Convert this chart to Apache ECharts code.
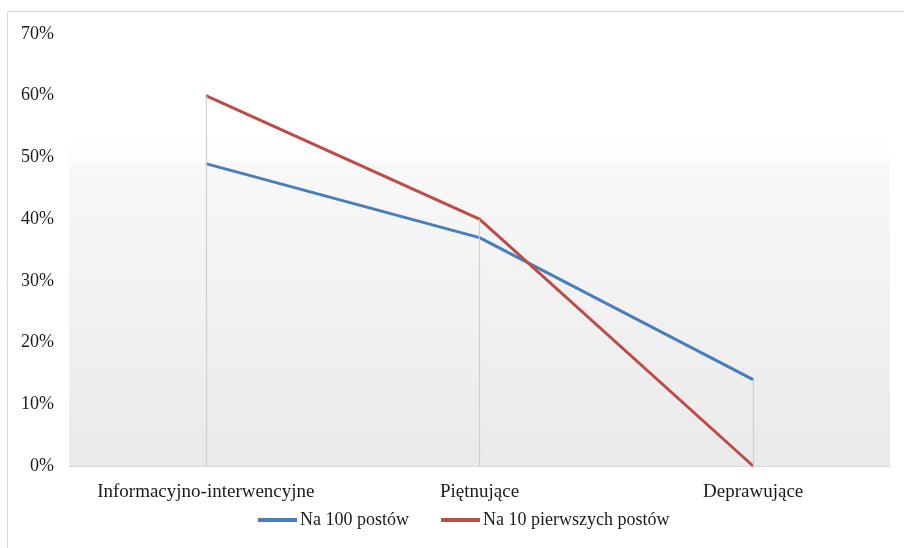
<!DOCTYPE html>
<html>
<head>
<meta charset="utf-8">
<script src="https://cdn.jsdelivr.net/npm/echarts@6/dist/echarts.min.js"></script>
<style>
  html, body { margin: 0; padding: 0; background: #ffffff; }
  #chart { width: 904px; height: 548px; }
</style>
</head>
<body>
<div id="chart"></div>
<script>
// Categories and values (percent)
const categories = ['Informacyjno-interwencyjne', 'Piętnujące', 'Deprawujące'];
const seriesNames = ['Na 100 postów', 'Na 10 pierwszych postów'];
const per100 = [49, 37, 14];
const perFirst10 = [60, 40, 0];
const yTicks = [0, 10, 20, 30, 40, 50, 60, 70];

const FONT = '"Liberation Serif", "Times New Roman", serif';
const TEXT = '#1a1a1a';

// Vertical drop lines from the highest point of each category down to the axis
const dropLines = categories.map((c, i) => [
  { coord: [c, 0] },
  { coord: [c, Math.max(per100[i], perFirst10[i])] }
]);

const chart = echarts.init(document.getElementById('chart'), null, { renderer: 'canvas' });

chart.setOption({
  animation: false,
  backgroundColor: '#ffffff',
  graphic: [{
    type: 'rect',
    shape: { x: 7.5, y: 11.5, width: 920, height: 560 },
    style: { fill: 'none', stroke: '#d9d9d9', lineWidth: 1 },
    silent: true
  }],
  grid: {
    left: 69, right: 14, top: 34, bottom: 82,
    show: true,
    borderWidth: 0,
    backgroundColor: new echarts.graphic.LinearGradient(0, 0, 0, 1, [
      { offset: 0, color: '#ffffff' },
      { offset: 0.22, color: '#ffffff' },
      { offset: 0.295, color: '#fdfdfd' },
      { offset: 0.30, color: '#f8f8f8' },
      { offset: 1, color: '#eaeaea' }
    ])
  },
  legend: {
    top: 511,
    left: 258,
    padding: 0,
    itemWidth: 39,
    itemHeight: 4,
    itemGap: 32,
    icon: 'rect',
    textStyle: { fontFamily: FONT, fontSize: 18, color: TEXT, padding: [0, 0, 0, -2] },
    data: seriesNames
  },
  xAxis: {
    type: 'category',
    data: categories,
    boundaryGap: true,
    axisLine: { lineStyle: { color: '#d9d9d9', width: 1 } },
    axisTick: { show: false },
    axisLabel: { fontFamily: FONT, fontSize: 19, color: TEXT, margin: 17, interval: 0, hideOverlap: false },
    splitLine: { show: false }
  },
  yAxis: {
    type: 'value',
    min: 0, max: 70, interval: 10,
    axisLine: { show: false },
    axisTick: { show: false },
    splitLine: { show: false },
    axisLabel: {
      fontFamily: FONT, fontSize: 18, color: TEXT, margin: 15,
      formatter: v => (yTicks.includes(v) ? v + '%' : '')
    }
  },
  series: [
    {
      name: seriesNames[0],
      type: 'line',
      data: per100,
      symbol: 'none',
      lineStyle: { color: '#4a7ebb', width: 3 },
      itemStyle: { color: '#4a7ebb' },
      z: 3,
      markLine: {
        silent: true,
        symbol: 'none',
        label: { show: false },
        lineStyle: { color: '#cfcfcf', width: 1.2, type: 'solid' },
        data: dropLines
      }
    },
    {
      name: seriesNames[1],
      type: 'line',
      data: perFirst10,
      symbol: 'none',
      lineStyle: { color: '#be4b48', width: 3 },
      itemStyle: { color: '#be4b48' },
      z: 4
    }
  ]
});
</script>
</body>
</html>
